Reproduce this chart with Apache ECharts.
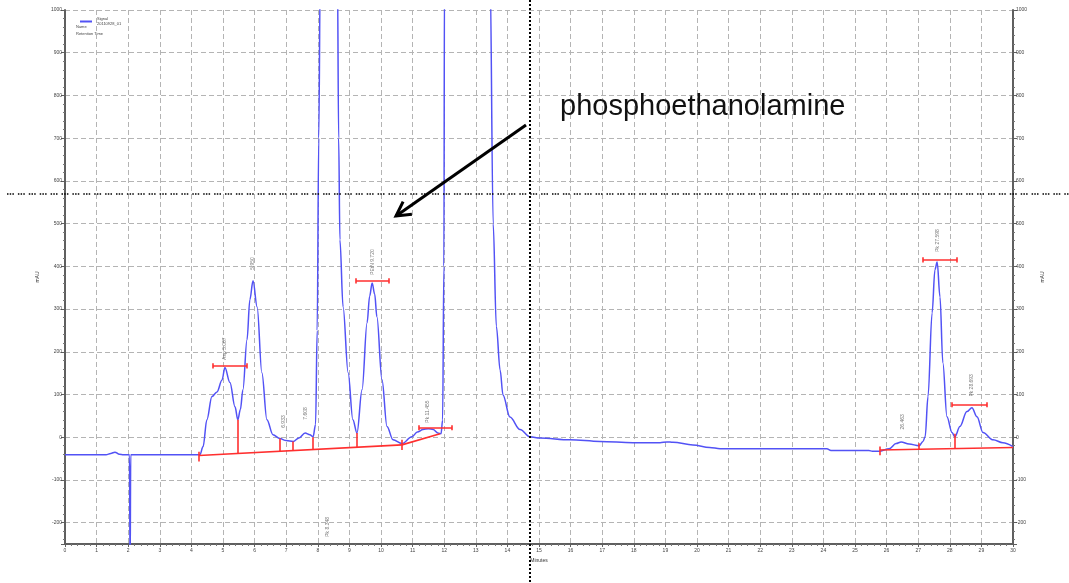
<!DOCTYPE html>
<html>
<head>
<meta charset="utf-8">
<title>Chromatogram</title>
<script src="https://cdn.jsdelivr.net/npm/echarts@6.0.0/dist/echarts.min.js"></script>
<style>
  html, body { margin: 0; padding: 0; background: #fff; }
  #chart { width: 1069px; height: 583px; }
</style>
</head>
<body>
<div id="chart"></div>
<script>
// detector trace (minutes / mAU)
const retentionTime = [
  0, 1.3, 1.45, 1.58, 1.72, 1.85, 2.04, 2.06, 2.08, 4.27,
  4.37, 4.49, 4.65, 4.81, 4.97, 5.06, 5.22, 5.38, 5.47, 5.55,
  5.63, 5.76, 5.85, 5.95, 6.08, 6.23, 6.39, 6.58, 6.8, 7.0,
  7.22, 7.4, 7.6, 7.75, 7.85, 7.93, 7.98, 8.03, 8.08, 8.2,
  8.5, 8.62, 8.66, 8.7, 8.8, 8.96, 9.11, 9.24, 9.4, 9.56,
  9.64, 9.72, 9.8, 9.87, 10.03, 10.19, 10.38, 10.66, 10.98, 11.15,
  11.33, 11.5, 11.65, 11.8, 11.9, 11.95, 11.99, 12.01, 12.1, 13.4,
  13.45, 13.55, 13.65, 13.77, 13.86, 14.08, 14.4, 14.72, 15.03, 15.98,
  16.93, 17.97, 18.83, 19.05, 19.24, 19.87, 20.4, 20.73, 24.11, 24.24,
  25.44, 25.55, 25.76, 26.08, 26.3, 26.46, 26.71, 27.03, 27.15, 27.22,
  27.31, 27.44, 27.53, 27.6, 27.69, 27.78, 27.91, 28.07, 28.16, 28.32,
  28.54, 28.7, 28.86, 29.05, 29.37, 29.68, 30
];
const signal = [
  -41, -41, -38, -35, -40, -41, -41, -320, -41, -41,
  -22, 41, 95, 106, 134, 163, 128, 71, 41, 65,
  111, 228, 322, 366, 305, 151, 41, 6, -3, -8,
  -10, -2, 10, 6, 1, 30, 250, 700, 1100, 3000,
  3000, 1100, 700, 462, 305, 151, 41, 10, 111, 268,
  330, 361, 335, 282, 135, 25, -6, -15, 1, 12,
  18, 20, 18, 10, 8, 40, 400, 1100, 3000, 3000,
  1100, 500, 260, 157, 99, 47, 18, 1, -2, -6,
  -10, -13, -13, -11, -12, -18, -24, -27, -27, -31,
  -31, -33, -33, -27, -15, -11, -16, -20, -10, 1,
  95, 291, 392, 410, 328, 174, 48, 11, 1, 25,
  60, 69, 48, 11, -6, -13, -22
];

// integration markup
const baselineSegments = [
  [[4.24, -43], [10.66, -18]],
  [[10.66, -18], [11.87, 8]],
  [[25.79, -30], [30, -24]]
];
const dropLines = [ // [time, from, to]
  [5.47, -38, 41], [6.8, -33, -3], [7.22, -31, -10], [7.85, -29, 0],
  [9.24, -24, 10], [27.03, -28, -14], [28.16, -27, 8],
  [4.24, -34, -57], [10.66, -6, -30], [25.79, -22, -42]
];
const peakBars = [ // [start, end, height]
  [4.68, 5.76, 167], [9.21, 10.25, 366], [11.2, 12.25, 22],
  [27.15, 28.23, 415], [28.07, 29.18, 76]
];

// peak labels
const peakLabelTime = [5.06, 5.95, 6.93, 7.6, 8.32, 9.72, 11.46, 26.5, 27.6, 28.7];
const peakLabelBase = [181, 392, 22, 41, -233, 380, 34, 18, 434, 95];
const peakLabelText = [
  "Asp 5.067", "5.950", "6.933", "7.608", "Pk 8.348",
  "PEtN 9.720", "Pk 11.455", "26.463", "Pk 27.598", "Pk 28.693"
];

const legendLines = ["Signal", "20110928_01"];
const legendExtra = ["Name", "Retention Time"];

const chart = echarts.init(document.getElementById("chart"));

const redLines = [];
baselineSegments.forEach(([a, b]) => redLines.push([{ coord: a }, { coord: b }]));
dropLines.forEach(([t, lo, hi]) => redLines.push([{ coord: [t, lo] }, { coord: [t, hi] }]));
peakBars.forEach(([t0, t1, v]) => {
  redLines.push([{ coord: [t0, v] }, { coord: [t1, v] }]);
  redLines.push([{ coord: [t0, v - 6] }, { coord: [t0, v + 6] }]);
  redLines.push([{ coord: [t1, v - 6] }, { coord: [t1, v + 6] }]);
});

// arrow overlay
const arrowFrom = [526, 125];
const arrowTo = [396, 216];
const ang = Math.atan2(arrowFrom[1] - arrowTo[1], arrowFrom[0] - arrowTo[0]);
const wing = (d) => [arrowTo[0] + 16 * Math.cos(ang + d), arrowTo[1] + 16 * Math.sin(ang + d)];

const font = "Liberation Sans";
const axisGrey = "#5f5f5f";
const gridLine = { show: true, lineStyle: { color: "#b4b4b4", type: [5, 3], width: 1 } };

const yBase = {
  type: "value",
  min: -250,
  max: 1000,
  splitNumber: 12,
  name: "mAU",
  nameLocation: "middle",
  nameRotate: 90,
  nameTextStyle: { fontSize: 5, color: "#333", fontFamily: font },
  axisLine: { show: true, lineStyle: { color: axisGrey, width: 2 } },
  axisTick: { show: true, length: 4, lineStyle: { color: axisGrey } },
  minorTick: { show: true, splitNumber: 5, length: 2, lineStyle: { color: "#777" } },
  axisLabel: {
    fontSize: 5, color: "#444", margin: 3, showMinLabel: false, fontFamily: font,
    formatter: (v) => String(v)
  }
};

chart.setOption({
  animation: false,
  backgroundColor: "#fff",
  grid: { left: 65, right: 56, top: 10, bottom: 39 },
  legend: {
    data: ["Signal"],
    left: 75,
    top: 12,
    icon: "rect",
    itemWidth: 12,
    itemHeight: 2,
    itemGap: 2,
    formatter: () => legendLines.join("\n"),
    textStyle: { fontSize: 4, lineHeight: 4.5, color: "#444", fontFamily: font }
  },
  xAxis: {
    type: "value",
    min: 0,
    max: 30,
    interval: 1,
    name: "Minutes",
    nameLocation: "middle",
    nameGap: 13,
    nameTextStyle: { fontSize: 5, color: "#333", fontFamily: font },
    axisLine: { show: true, onZero: false, lineStyle: { color: axisGrey, width: 2 } },
    axisTick: { show: true, length: 3, lineStyle: { color: axisGrey } },
    minorTick: { show: true, splitNumber: 5, length: 2, lineStyle: { color: "#777" } },
    axisLabel: { fontSize: 5, color: "#444", margin: 4, fontFamily: font },
    splitLine: gridLine
  },
  yAxis: [
    Object.assign({}, yBase, { position: "left", nameGap: 25, splitLine: gridLine }),
    Object.assign({}, yBase, { position: "right", nameGap: 27, splitLine: { show: false } })
  ],
  series: [
    {
      name: "Signal",
      type: "line",
      data: retentionTime.map((t, i) => [t, signal[i]]),
      showSymbol: false,
      smooth: 0.35,
      smoothMonotone: "x",
      clip: true,
      lineStyle: { color: "#5252f5", width: 1.5 },
      itemStyle: { color: "#5252f5" },
      z: 2
    },
    {
      name: "Integration",
      type: "line",
      data: [],
      z: 3,
      markLine: {
        silent: true,
        symbol: ["none", "none"],
        label: { show: false },
        lineStyle: { color: "#ff2f2f", width: 1.6, type: "solid" },
        data: redLines
      }
    },
    {
      name: "Peaks",
      type: "scatter",
      symbolSize: 0,
      data: peakLabelTime.map((t, i) => [t, peakLabelBase[i]]),
      label: {
        show: true,
        position: "top",
        distance: 0,
        rotate: 90,
        align: "left",
        verticalAlign: "middle",
        fontSize: 5,
        color: "#555",
        fontFamily: font,
        formatter: (p) => peakLabelText[p.dataIndex]
      },
      z: 4
    }
  ],
  graphic: [
    {
      type: "text",
      left: 76,
      top: 23,
      style: { text: legendExtra.join("\n"), fontSize: 4, lineHeight: 7, fill: "#444", fontFamily: font }
    },
    {
      type: "text",
      x: 560,
      y: 107,
      style: {
        text: "phosphoethanolamine",
        fontSize: 29,
        fontFamily: font,
        fill: "#111",
        textVerticalAlign: "middle"
      },
      z: 20
    },
    {
      type: "line",
      shape: { x1: arrowFrom[0], y1: arrowFrom[1], x2: arrowTo[0], y2: arrowTo[1] },
      style: { stroke: "#000", lineWidth: 3 },
      z: 20
    },
    {
      type: "polyline",
      shape: { points: [wing(0.5), arrowTo, wing(-0.5)] },
      style: { stroke: "#000", lineWidth: 3, fill: null },
      z: 20
    },
    {
      type: "line",
      shape: { x1: 7, y1: 194, x2: 1069, y2: 194 },
      style: { stroke: "#000", lineWidth: 1.5, lineDash: [1.5, 1.2, 1.5, 1.2, 1.5, 4] },
      z: 19
    },
    {
      type: "line",
      shape: { x1: 530, y1: 0, x2: 530, y2: 583 },
      style: { stroke: "#000", lineWidth: 2, lineDash: [2, 2] },
      z: 19
    }
  ]
});
</script>
</body>
</html>
